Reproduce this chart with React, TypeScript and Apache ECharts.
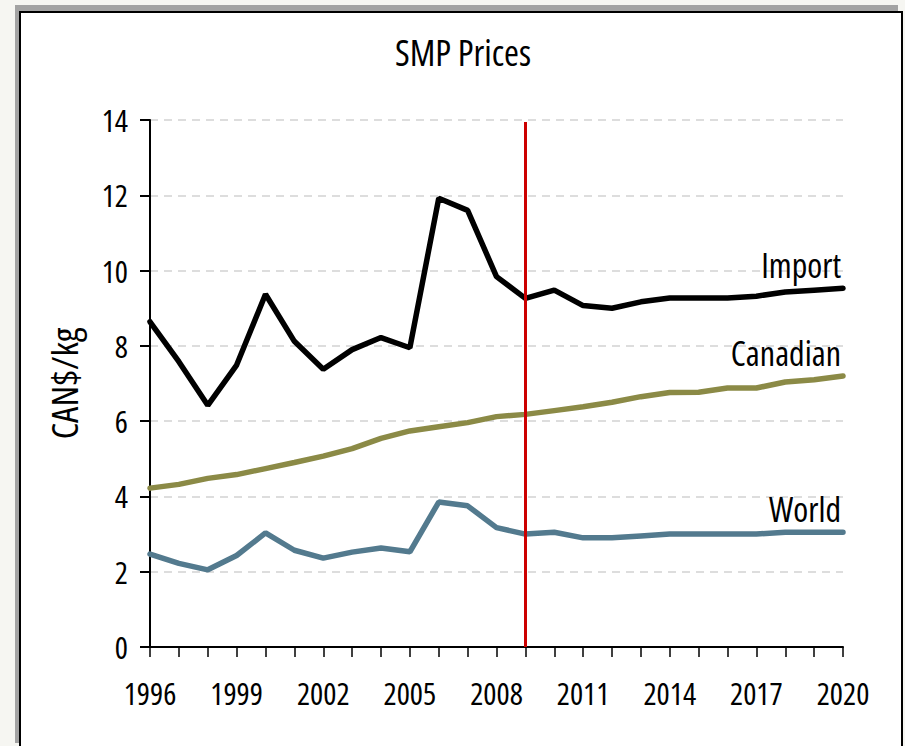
import React, { useEffect, useRef } from "react";
import * as echarts from "echarts";

const years = ["1996","1997","1998","1999","2000","2001","2002","2003","2004","2005","2006","2007","2008","2009","2010","2011","2012","2013","2014","2015","2016","2017","2018","2019","2020"];
const importPrices = [8.64, 7.58, 6.42, 7.49, 9.37, 8.12, 7.38, 7.9, 8.22, 7.95, 11.92, 11.6, 9.84, 9.26, 9.48, 9.07, 9.0, 9.17, 9.27, 9.27, 9.27, 9.32, 9.43, 9.48, 9.53];
const canadianPrices = [4.22, 4.32, 4.48, 4.58, 4.74, 4.9, 5.07, 5.27, 5.54, 5.74, 5.85, 5.96, 6.12, 6.18, 6.28, 6.38, 6.5, 6.65, 6.76, 6.77, 6.88, 6.88, 7.04, 7.1, 7.2];
const worldPrices = [2.47, 2.22, 2.05, 2.43, 3.03, 2.57, 2.36, 2.52, 2.63, 2.53, 3.85, 3.75, 3.17, 3.0, 3.05, 2.9, 2.9, 2.95, 3.0, 3.0, 3.0, 3.0, 3.05, 3.05, 3.05];
const markerYear = "2009";
const yTicks = { min: 0, max: 14, interval: 2 };

const FONT = "'Open Sans', 'Liberation Sans', sans-serif";

export default function App() {
  const ref = useRef<HTMLDivElement>(null);
  useEffect(() => {
    if (!ref.current) return;
    const chart = echarts.init(ref.current, undefined, { renderer: "svg" });
    const endLabel = {
      show: true,
      formatter: "{a}",
      align: "right",
      verticalAlign: "bottom",
      distance: 0,
      offset: [-2, -6],
      color: "#000",
      fontFamily: FONT,
      fontSize: 34,
    };
    chart.setOption({
      animation: false,
      title: {
        text: "SMP Prices",
        top: 34,
        left: 463,
        textAlign: "center",
        padding: 0,
        textStyle: { fontFamily: FONT, fontSize: 36, fontWeight: "normal", color: "#000" },
      },
      grid: { left: 150, right: 62, top: 120, bottom: 99, containLabel: false },
      xAxis: {
        type: "category",
        data: years,
        boundaryGap: false,
        axisLine: { lineStyle: { color: "#000", width: 2 } },
        axisTick: { show: true, interval: 0, length: 10, lineStyle: { color: "#000", width: 1.5 } },
        axisLabel: { interval: 2, color: "#000", fontFamily: FONT, fontSize: 31, margin: 30 },
        splitLine: { show: false },
      },
      yAxis: {
        type: "value",
        min: yTicks.min,
        max: yTicks.max,
        interval: yTicks.interval,
        name: "CAN$/kg",
        nameLocation: "middle",
        nameGap: 64,
        nameTextStyle: { fontFamily: FONT, fontSize: 37, color: "#000" },
        axisLine: { show: true, lineStyle: { color: "#000", width: 2 } },
        axisTick: { show: true, length: 10, lineStyle: { color: "#000", width: 2 } },
        axisLabel: { color: "#000", fontFamily: FONT, fontSize: 31, margin: 22 },
        splitLine: { show: true, lineStyle: { color: "#d2d2d2", type: [8, 6], width: 1.5 } },
      },
      series: [
        {
          name: "Import",
          type: "line",
          data: importPrices,
          symbol: "none",
          lineStyle: { color: "#000", width: 5.5, cap: "round" },
          endLabel,
          z: 3,
        },
        {
          name: "Canadian",
          type: "line",
          data: canadianPrices,
          symbol: "none",
          lineStyle: { color: "#8b8a46", width: 5.5, cap: "round" },
          endLabel,
          z: 3,
        },
        {
          name: "World",
          type: "line",
          data: worldPrices,
          symbol: "none",
          lineStyle: { color: "#537a8e", width: 5.5, cap: "round" },
          endLabel,
          z: 3,
          markLine: {
            silent: true,
            symbol: "none",
            label: { show: false },
            lineStyle: { color: "#cc0000", width: 3, type: "solid" },
            data: [[{ xAxis: markerYear, yAxis: 0 }, { xAxis: markerYear, yAxis: 13.95 }]],
            z: 5,
          },
        },
      ],
    });
    return () => chart.dispose();
  }, []);

  return (
    <div style={{ position: "fixed", left: 0, top: 0, width: 905, height: 746, background: "#f6f6f2", overflow: "hidden" }}>
      <style>{"#smp-chart text { font-stretch: 75% !important; }"}</style>
      <div style={{ position: "absolute", left: 15, top: 5, width: 883, height: 738, background: "#a3a3a3" }} />
      <div
        style={{
          position: "absolute",
          left: 19,
          top: 11,
          width: 880,
          height: 760,
          background: "#fff",
          borderLeft: "2px solid #000",
          borderTop: "2px solid #000",
          borderRight: "2px solid #000",
        }}
      />
      <div id="smp-chart" ref={ref} style={{ position: "absolute", left: 0, top: 0, width: 905, height: 746 }} />
    </div>
  );
}
